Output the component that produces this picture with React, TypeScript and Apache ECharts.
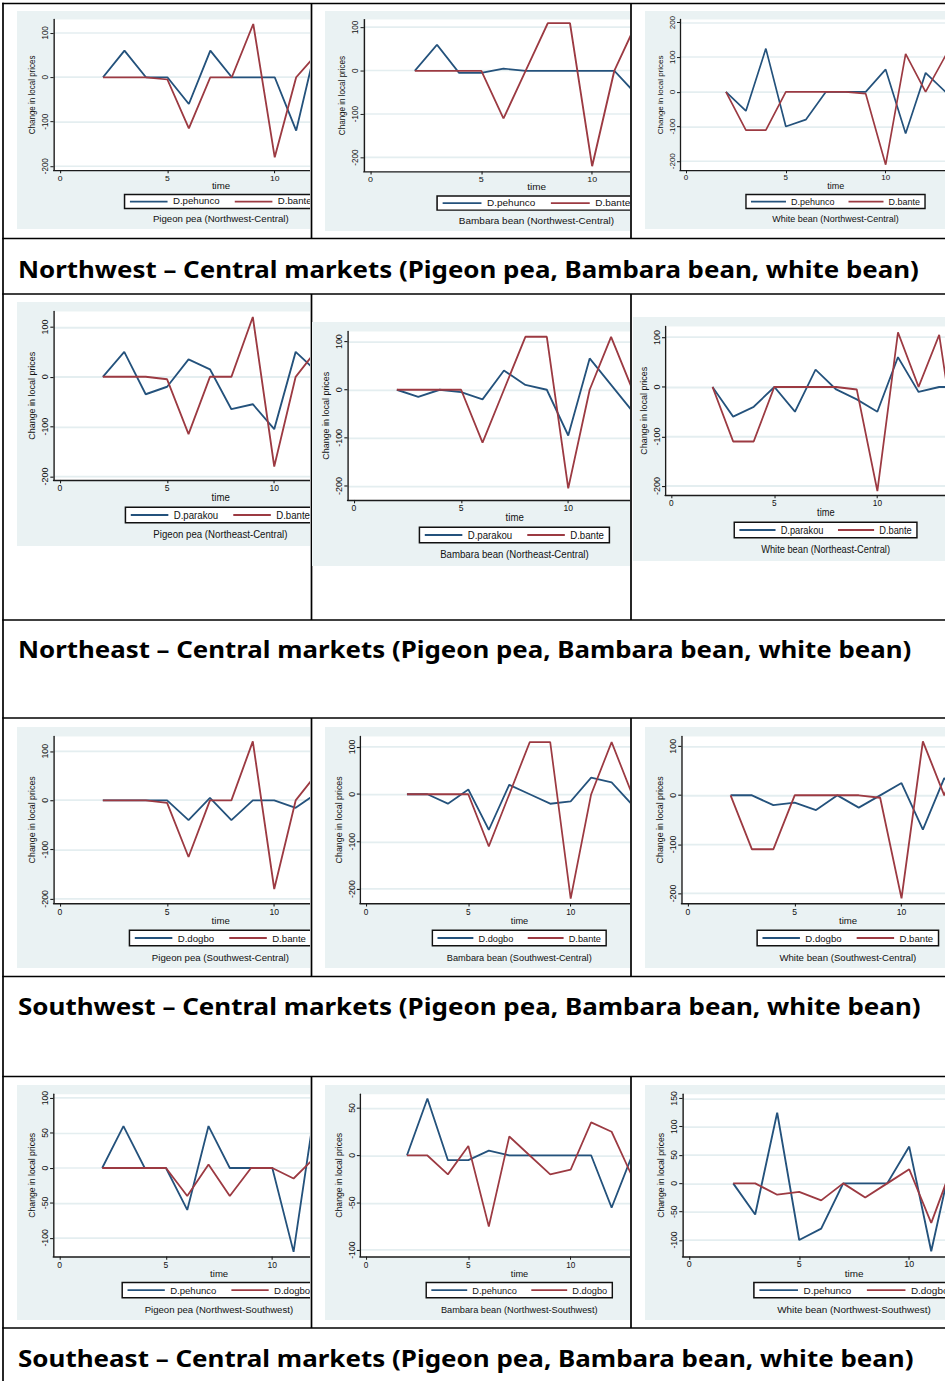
import React, { useEffect, useRef } from "react";
import * as echarts from "echarts";

// ---- data: first differences of local prices, time = 2, 3, 4, ...
const TIME = [2, 3, 4, 5, 6, 7, 8, 9, 10, 11, 12, 13, 14];

// Pigeon pea
const pigeonPehunco = [0, 60, 0, 0, -60, 60, 0, 0, 0, -120, 85];
const pigeonBante = [0, 0, 0, -5, -115, 0, 0, 120, -180, 0, 55];
const pigeonParakou = [0, 50, -35, -20, 35, 15, -65, -55, -105, 50, 10];
const pigeonDogbo = [0, 0, 0, 0, -40, 5, -40, 0, 0, -15, 15];

// Bambara bean
const bambaraPehunco = [0, 60, -5, -5, 5, 0, 0, 0, 0, 0, -55, 0];
const bambaraBante = [0, 0, 0, 0, -110, 0, 110, 110, -220, 0, 110, 0];
const bambaraBanteNE = [0, 0, 0, 0, -110, 0, 110, 110, -205, 0, 110, 0];
const bambaraParakou = [0, -15, 0, -5, -20, 40, 10, 0, -95, 65, 10, -45];
const bambaraDogbo = [0, 0, -20, 10, -75, 20, 0, -20, -15, 35, 25, -22];

// White bean
const whitePehunco = [0, -55, 125, -100, -80, 0, 0, 0, 65, -120, 55, 0];
const whiteBante = [0, -110, -110, 0, 0, 0, 0, -5, -210, 110, 0, 105, -170];
const whiteParakou = [0, -60, -40, 0, -50, 35, -5, -25, -50, 60, -10, 0, 0];
const whiteDogbo = [0, 0, -20, -15, -30, 0, -25, 0, 25, -70, 35, 0];

// tick labels
const X_TICKS = [0, 5, 10];
const Y_TICKS_A = [-200, -100, 0, 100];
const Y_TICKS_B = [-200, -100, 0, 100, 200];
const Y_TICKS_C = [-100, -50, 0, 50, 100];
const Y_TICKS_D = [-100, -50, 0, 50];
const Y_TICKS_E = [-100, -50, 0, 50, 100, 150];

const ROW_TITLES = [
  "Northwest – Central markets (Pigeon pea, Bambara bean, white bean)",
  "Northeast – Central markets (Pigeon pea, Bambara bean, white bean)",
  "Southwest – Central markets (Pigeon pea, Bambara bean, white bean)",
  "Southeast – Central markets (Pigeon pea, Bambara bean, white bean)",
];

// ---- styling
const FONT = "'Liberation Sans', Arial, Helvetica, sans-serif";
const TITLE_FONT_FAMILY = "'Noto Sans'";
const TITLE_FONT_SIZE = 24;
const STATA_BG = "#EAF2F3";
const NAVY = "#24527C";
const MAROON = "#9C3A42";

// Stata figure in its own (unstretched) coordinates
const BASE_W = 381;
const BASE_H = 218;
const PLOT = { left: 35, top: 8.5, right: 346.5, bottom: 159 };
const X_ZERO = 41; // offset of time = 0 from the figure's left edge
const X_MIN = -0.3;
const X_MAX = 15.3;

type Layout = { x0: number; sx: number; top: number; h: number; clipL: number; clipR: number };
type Panel = {
  caption: string;
  names: [string, string];
  blue: number[];
  red: number[];
  yMin: number;
  yMax: number;
  yTicks: number[];
  layout: Layout;
};

const PANELS: Panel[] = [
  {
    caption: "Pigeon pea (Northwest-Central)", names: ["D.pehunco", "D.bante"],
    blue: pigeonPehunco, red: pigeonBante, yMin: -209, yMax: 130, yTicks: Y_TICKS_A,
    layout: { x0: 60, sx: 1.075, top: 11, h: 218.3, clipL: 16.7, clipR: 310.5 },
  },
  {
    caption: "Bambara bean (Northwest-Central)", names: ["D.pehunco", "D.bante"],
    blue: bambaraPehunco, red: bambaraBante, yMin: -232, yMax: 118, yTicks: Y_TICKS_A,
    layout: { x0: 370, sx: 1.11, top: 11, h: 220, clipL: 325, clipR: 630.3 },
  },
  {
    caption: "White bean (Northwest-Central)", names: ["D.pehunco", "D.bante"],
    blue: whitePehunco, red: whiteBante, yMin: -226, yMax: 209, yTicks: Y_TICKS_B,
    layout: { x0: 686, sx: 1.0, top: 11, h: 218.3, clipL: 645, clipR: 945 },
  },
  {
    caption: "Pigeon pea (Northeast-Central)", names: ["D.parakou", "D.bante"],
    blue: pigeonParakou, red: pigeonBante, yMin: -207, yMax: 131, yTicks: Y_TICKS_A,
    layout: { x0: 60, sx: 1.073, top: 301.7, h: 244, clipL: 16.7, clipR: 310.5 },
  },
  {
    caption: "Bambara bean (Northeast-Central)", names: ["D.parakou", "D.bante"],
    blue: bambaraParakou, red: bambaraBanteNE, yMin: -229, yMax: 121, yTicks: Y_TICKS_A,
    layout: { x0: 354, sx: 1.073, top: 321.7, h: 244, clipL: 312, clipR: 630.3 },
  },
  {
    caption: "White bean (Northeast-Central)", names: ["D.parakou", "D.bante"],
    blue: whiteParakou, red: whiteBante, yMin: -218, yMax: 122, yTicks: Y_TICKS_A,
    layout: { x0: 671.3, sx: 1.032, top: 316.7, h: 244, clipL: 633, clipR: 945 },
  },
  {
    caption: "Pigeon pea (Southwest-Central)", names: ["D.dogbo", "D.bante"],
    blue: pigeonDogbo, red: pigeonBante, yMin: -209, yMax: 130, yTicks: Y_TICKS_A,
    layout: { x0: 60, sx: 1.073, top: 726.7, h: 241.7, clipL: 16.7, clipR: 310.5 },
  },
  {
    caption: "Bambara bean (Southwest-Central)", names: ["D.dogbo", "D.bante"],
    blue: bambaraDogbo, red: bambaraBante, yMin: -230, yMax: 122, yTicks: Y_TICKS_A,
    layout: { x0: 366, sx: 1.025, top: 726.7, h: 241.7, clipL: 325, clipR: 630.3 },
  },
  {
    caption: "White bean (Southwest-Central)", names: ["D.dogbo", "D.bante"],
    blue: whiteDogbo, red: whiteBante, yMin: -220, yMax: 120, yTicks: Y_TICKS_A,
    layout: { x0: 688.3, sx: 1.07, top: 726.7, h: 241.7, clipL: 645, clipR: 945 },
  },
  {
    caption: "Pigeon pea (Northwest-Southwest)", names: ["D.pehunco", "D.dogbo"],
    blue: pigeonPehunco, red: pigeonDogbo, yMin: -126.5, yMax: 105.7, yTicks: Y_TICKS_C,
    layout: { x0: 59.3, sx: 1.065, top: 1084.7, h: 235, clipL: 16.7, clipR: 310.5 },
  },
  {
    caption: "Bambara bean (Northwest-Southwest)", names: ["D.pehunco", "D.dogbo"],
    blue: bambaraPehunco, red: bambaraDogbo, yMin: -106.6, yMax: 64.7, yTicks: Y_TICKS_D,
    layout: { x0: 366, sx: 1.025, top: 1084.7, h: 235, clipL: 325, clipR: 630.3 },
  },
  {
    caption: "White bean (Northwest-Southwest)", names: ["D.pehunco", "D.dogbo"],
    blue: whitePehunco, red: whiteDogbo, yMin: -129, yMax: 157.6, yTicks: Y_TICKS_E,
    layout: { x0: 689.3, sx: 1.102, top: 1084.7, h: 235, clipL: 645, clipR: 945 },
  },
];

// table rules of the page
const H_RULES = [3.5, 238.5, 294, 620, 718, 976.5, 1076.5, 1328];
const CHART_ROWS: [number, number][] = [
  [3.5, 238.5],
  [294, 620],
  [718, 976.5],
  [1076.5, 1328],
];
const COL_RULES = [311.5, 631];
const ROW_TITLE_X = 18;
const ROW_TITLE_Y = [268, 648, 1005, 1357];
const ROW_TITLE_W = [901, 894, 903, 896];

const toPoints = (vals: number[]) => vals.map((v, i) => [TIME[i], v]);

function textWidth(text: string, font: string) {
  const ctx = document.createElement("canvas").getContext("2d");
  if (!ctx) return 0;
  ctx.font = font;
  return ctx.measureText(text).width;
}

function panelOption(p: Panel) {
  const axisColor = "#1b1b1b";
  return {
    animation: false,
    backgroundColor: STATA_BG,
    textStyle: { fontFamily: FONT, color: "#000" },
    title: {
      text: p.caption,
      left: "center",
      top: 203.5,
      padding: 0,
      textStyle: { fontSize: 9, fontWeight: "normal", color: "#111", fontFamily: FONT },
    },
    legend: {
      data: p.names,
      left: "center",
      top: 183.3,
      orient: "horizontal",
      icon: "rect",
      itemWidth: 35,
      itemHeight: 1.7,
      itemGap: 14,
      padding: [2.5, 5],
      borderColor: "#111",
      borderWidth: 1.4,
      borderRadius: 0,
      backgroundColor: "#fff",
      textStyle: { fontSize: 9, color: "#111", fontFamily: FONT },
    },
    grid: {
      show: true,
      backgroundColor: "#fff",
      borderWidth: 0,
      left: PLOT.left,
      top: PLOT.top,
      right: BASE_W - PLOT.right,
      bottom: BASE_H - PLOT.bottom,
      containLabel: false,
      outerBoundsMode: "none",
    },
    xAxis: {
      type: "value",
      min: X_MIN,
      max: X_MAX,
      name: "time",
      nameLocation: "middle",
      nameGap: 11,
      nameMoveOverlap: false,
      nameTextStyle: { fontSize: 9, color: "#111", fontFamily: FONT },
      axisLine: { show: true, onZero: false, lineStyle: { color: axisColor, width: 1.3 } },
      axisTick: { show: true, customValues: X_TICKS, length: 3, lineStyle: { color: axisColor, width: 1 } },
      axisLabel: { customValues: X_TICKS, margin: 3.5, fontSize: 8, color: "#111", fontFamily: FONT },
      splitLine: { show: false },
    },
    yAxis: {
      type: "value",
      min: p.yMin,
      max: p.yMax,
      name: "Change in local prices",
      nameLocation: "middle",
      nameRotate: 90,
      nameGap: 16,
      nameMoveOverlap: false,
      nameTextStyle: { fontSize: 8, color: "#111", fontFamily: FONT },
      axisLine: { show: true, onZero: false, lineStyle: { color: axisColor, width: 1.3 } },
      axisTick: { show: true, customValues: p.yTicks, length: 3, lineStyle: { color: axisColor, width: 1 } },
      axisLabel: { customValues: p.yTicks, rotate: 90, margin: 4, fontSize: 8, color: "#111", fontFamily: FONT },
      splitLine: { show: true, lineStyle: { color: "#E4EEF0", width: 1.6 } },
    },
    series: [
      {
        name: p.names[0],
        type: "line",
        data: toPoints(p.blue),
        symbol: "none",
        clip: true,
        color: NAVY,
        lineStyle: { color: NAVY, width: 1.7 },
        z: 3,
      },
      {
        name: p.names[1],
        type: "line",
        data: toPoints(p.red),
        symbol: "none",
        clip: true,
        color: MAROON,
        lineStyle: { color: MAROON, width: 1.7 },
        z: 4,
      },
    ],
  };
}

function PanelChart({ p }: { p: Panel }) {
  const ref = useRef<HTMLDivElement>(null);
  useEffect(() => {
    if (!ref.current) return;
    const chart = echarts.init(ref.current, undefined, { renderer: "svg" });
    chart.setOption(panelOption(p) as any);
    return () => chart.dispose();
  }, [p]);
  const L = p.layout;
  const figLeft = L.x0 - X_ZERO * L.sx;
  const sy = L.h / BASE_H;
  return (
    <div
      style={{
        position: "absolute",
        left: L.clipL,
        top: L.top,
        width: L.clipR - L.clipL,
        height: L.h,
        overflow: "hidden",
      }}
    >
      <div
        style={{
          position: "absolute",
          left: figLeft - L.clipL,
          top: 0,
          width: BASE_W,
          height: BASE_H,
          transform: `scale(${L.sx}, ${sy})`,
          transformOrigin: "0 0",
        }}
      >
        <div ref={ref} style={{ width: BASE_W, height: BASE_H }} />
      </div>
    </div>
  );
}

function TableFrame() {
  const ref = useRef<HTMLDivElement>(null);
  useEffect(() => {
    if (!ref.current) return;
    const chart = echarts.init(ref.current, undefined, { renderer: "svg" });
    const rule = { stroke: "#000", lineWidth: 1.7 };
    const elements: any[] = [];
    H_RULES.forEach((y) =>
      elements.push({ type: "line", shape: { x1: 2.2, y1: y, x2: 945, y2: y }, style: rule })
    );
    elements.push({ type: "line", shape: { x1: 3, y1: 2.7, x2: 3, y2: 1381 }, style: rule });
    CHART_ROWS.forEach(([y1, y2]) =>
      COL_RULES.forEach((x) =>
        elements.push({ type: "line", shape: { x1: x, y1, x2: x, y2 }, style: rule })
      )
    );
    const font = `bold ${TITLE_FONT_SIZE}px ${TITLE_FONT_FAMILY}`;
    ROW_TITLES.forEach((t, i) => {
      const w = textWidth(t, font);
      const stretch = w > 0 ? ROW_TITLE_W[i] / w : 1;
      elements.push({
        type: "text",
        x: ROW_TITLE_X,
        y: ROW_TITLE_Y[i],
        scaleX: stretch,
        scaleY: 1,
        style: {
          text: t,
          fontSize: TITLE_FONT_SIZE,
          fontWeight: "bold",
          fontFamily: TITLE_FONT_FAMILY,
          fill: "#000",
          align: "left",
          verticalAlign: "middle",
          textAlign: "left",
          textVerticalAlign: "middle",
        },
      });
    });
    chart.setOption({ animation: false, graphic: { elements } } as any);
    return () => chart.dispose();
  }, []);
  return (
    <div ref={ref} style={{ position: "absolute", left: 0, top: 0, width: 945, height: 1381 }} />
  );
}

export default function App() {
  return (
    <div
      style={{
        position: "absolute",
        left: 0,
        top: 0,
        width: 945,
        height: 1381,
        overflow: "hidden",
        background: "#fff",
      }}
    >
      <TableFrame />
      {PANELS.map((p, i) => (
        <PanelChart key={i} p={p} />
      ))}
    </div>
  );
}
